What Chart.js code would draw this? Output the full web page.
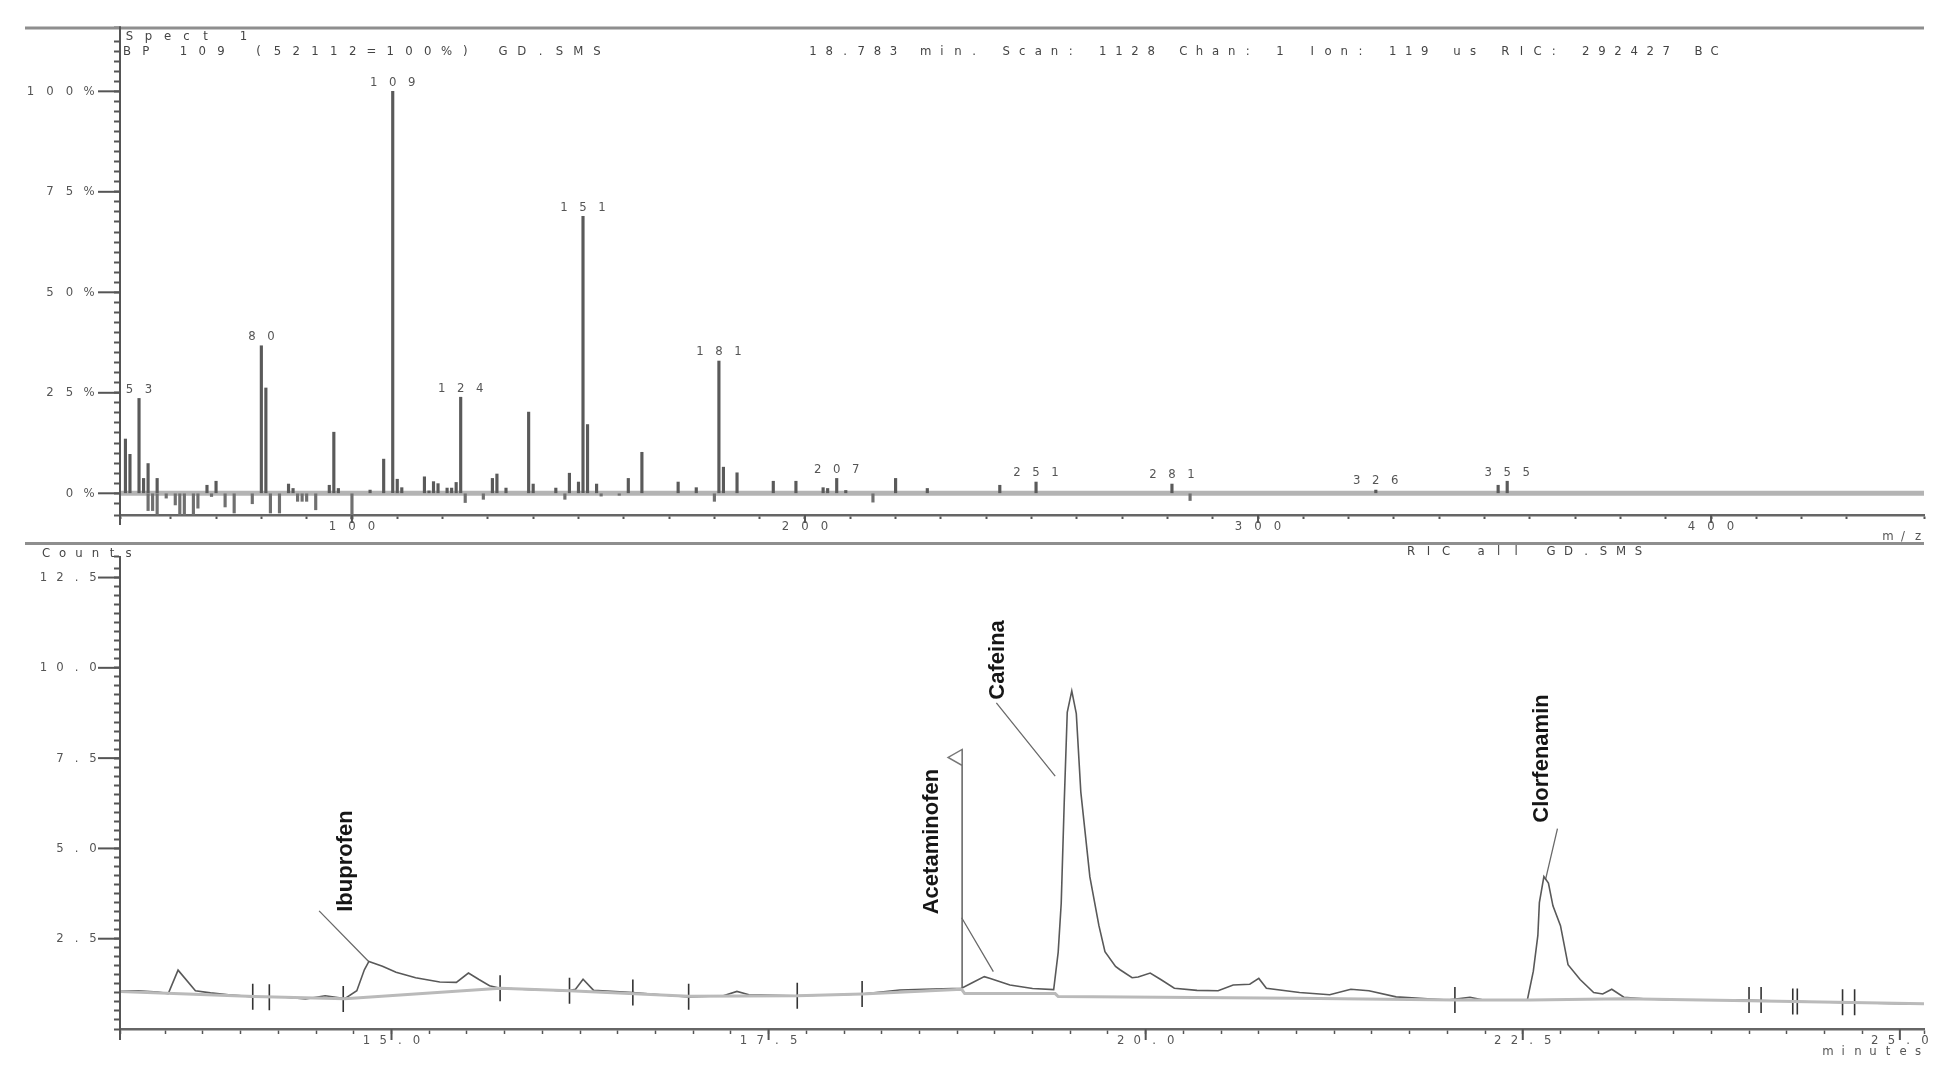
<!DOCTYPE html>
<html>
<head>
<meta charset="utf-8">
<title>GC-MS: spectrum and RIC chromatogram</title>
<script src="https://cdn.jsdelivr.net/npm/chart.js@4.4.1/dist/chart.umd.min.js"></script>
<style>
  html, body { margin: 0; padding: 0; background: #fff; }
  body { width: 1953px; height: 1086px; position: relative; overflow: hidden; }
  canvas { position: absolute; left: 0; }
  #spec { top: 0; }
  #chrom { top: 542px; }
</style>
</head>
<body>
<canvas id="spec" width="1953" height="542"></canvas>
<canvas id="chrom" width="1953" height="544"></canvas>
<script>
// mass spectrum at 18.783 min (m/z, % of base peak)
const specMz  = [50, 51, 53, 54, 55, 57, 68, 70, 80, 81, 86, 87, 95, 96, 97, 104, 107, 109, 110, 111,
                 116, 117, 118, 119, 121, 122, 123, 124, 131, 132, 134, 139, 140, 145, 148, 150, 151, 152, 154,
                 161, 164, 172, 176, 181, 182, 185, 193, 198, 204, 205, 207, 209, 220, 227, 243, 251, 281, 326, 353, 355];
const specPct = [13.5, 9.7, 23.6, 3.7, 7.4, 3.7, 2.0, 3.0, 36.7, 26.2, 2.3, 1.2, 2.0, 15.2, 1.2, 0.8, 8.5, 100, 3.5, 1.4,
                 4.1, 0.6, 2.9, 2.4, 1.3, 1.3, 2.7, 23.9, 3.7, 4.8, 1.3, 20.2, 2.3, 1.3, 5.0, 2.8, 68.9, 17.1, 2.3,
                 3.7, 10.2, 2.8, 1.4, 32.9, 6.5, 5.1, 3.0, 3.0, 1.4, 1.2, 3.7, 0.7, 3.7, 1.2, 2.0, 2.8, 2.3, 0.8, 2.0, 3.0];
// bars drawn below the 0% line
const refMz  = [55, 56, 57, 59, 61, 62, 63, 65, 66, 69, 72, 74, 78, 82, 84, 88, 89, 90, 92, 100, 125, 129, 147, 155, 159, 180, 215, 285];
const refPct = [-4.3, -4.3, -5.4, -1.2, -2.9, -5.4, -5.4, -5.4, -3.7, -0.8, -3.4, -4.9, -2.6, -4.9, -4.9, -2.0, -2.0, -2.0, -4.1, -6.4,
                -2.3, -1.5, -1.5, -0.7, -0.5, -2.0, -2.2, -1.8];
const peakLabels = [53, 80, 109, 124, 151, 181, 207, 251, 281, 326, 355];
const mzTicks  = [100, 200, 300, 400];
const pctTicks = [0, 25, 50, 75, 100];
const specTitle = 'Spect 1';
const specInfo  = 'BP 109 (52112=100%) GD.SMS';
const scanInfo  = '18.783 min. Scan: 1128 Chan: 1 Ion: 119 us RIC: 292427 BC';

// RIC chromatogram (minutes, counts)
const ricTime = [13.20, 13.32, 13.45, 13.52, 13.585, 13.70, 13.80, 13.92, 14.09, 14.30, 14.43, 14.56, 14.69, 14.77, 14.82, 14.85,
                 14.94, 15.03, 15.16, 15.32, 15.43, 15.51, 15.58, 15.65, 15.72, 15.94, 16.05, 16.16, 16.22, 16.27, 16.34,
                 16.60, 16.80, 16.97, 17.20, 17.29, 17.37, 17.68, 17.90, 18.12, 18.37, 18.53, 18.78, 18.85, 18.93, 18.97,
                 19.02, 19.10, 19.25, 19.39, 19.42, 19.44, 19.46, 19.48, 19.51, 19.54, 19.57, 19.63, 19.69, 19.73, 19.80,
                 19.83, 19.91, 19.95, 20.03, 20.10, 20.19, 20.34, 20.48, 20.58, 20.69, 20.75, 20.80, 21.02, 21.22, 21.36,
                 21.48, 21.66, 22.00, 22.15, 22.24, 22.53, 22.57, 22.60, 22.61, 22.64, 22.67, 22.70, 22.75, 22.80, 22.88,
                 22.97, 23.03, 23.09, 23.17, 23.32, 23.56, 23.95, 24.53, 25.16];
const ricCounts = [1.06, 1.06, 1.02, 0.98, 1.63, 1.06, 1.00, 0.95, 0.89, 0.88, 0.83, 0.92, 0.84, 1.06, 1.64, 1.87,
                   1.74, 1.57, 1.42, 1.30, 1.29, 1.55, 1.37, 1.20, 1.13, 1.09, 1.08, 1.05, 1.10, 1.38, 1.07,
                   1.01, 0.94, 0.89, 0.92, 1.04, 0.95, 0.92, 0.94, 0.97, 1.08, 1.10, 1.13, 1.28, 1.45, 1.40,
                   1.33, 1.22, 1.12, 1.09, 2.13, 3.48, 6.28, 8.77, 9.36, 8.73, 6.56, 4.21, 2.86, 2.14, 1.73,
                   1.64, 1.42, 1.44, 1.55, 1.37, 1.13, 1.07, 1.06, 1.22, 1.24, 1.40, 1.13, 1.01, 0.95, 1.10,
                   1.06, 0.89, 0.80, 0.88, 0.80, 0.80, 1.60, 2.59, 3.50, 4.22, 4.04, 3.41, 2.86, 1.78, 1.37,
                   1.01, 0.97, 1.10, 0.88, 0.83, 0.80, 0.80, 0.74, 0.69];
// integration baseline
const baseTime   = [13.20, 14.09, 14.69, 15.72, 16.18, 16.97, 17.69, 18.12, 18.78, 18.80, 19.40, 19.42, 21.00, 22.05, 22.55, 23.17, 24.00, 25.16];
const baseCounts = [1.04, 0.90, 0.84, 1.13, 1.06, 0.91, 0.92, 0.97, 1.10, 0.98, 0.98, 0.90, 0.85, 0.80, 0.80, 0.84, 0.78, 0.70];
// peak start / end markers
const markTime   = [14.08, 14.19, 14.68, 15.72, 16.18, 16.60, 16.97, 17.69, 18.12, 22.05, 24.00, 24.08, 24.29, 24.32, 24.62, 24.70];
const markCounts = [0.89, 0.88, 0.83, 1.13, 1.06, 1.01, 0.89, 0.92, 0.97, 0.80, 0.80, 0.80, 0.76, 0.76, 0.74, 0.74];
const compounds  = ['Ibuprofen', 'Acetaminofen', 'Cafeina', 'Clorfenamin'];
const compoundAt = [[14.695, 4.65], [18.58, 5.19], [19.02, 10.22], [22.63, 7.49]];
const leaderFrom = [[14.52, 3.27], [18.78, 3.08], [19.01, 9.03], [22.73, 5.55]];
const leaderTo   = [[14.85, 1.86], [18.99, 1.59], [19.40, 7.00], [22.65, 4.12]];
const cursorTime = 18.783, cursorBase = 1.13, cursorTop = 7.74;
const timeTicks  = [15.0, 17.5, 20.0, 22.5, 25.0];
const countTicks = [2.5, 5.0, 7.5, 10.0, 12.5];

const INK = '#555';
const SMALL = '13px "DejaVu Sans Condensed", "Liberation Sans", Arial, sans-serif';

// the instrument printout spaces every character on a fixed pitch
function spaced(ctx, text, x, y, adv, align) {
  const w = adv * (text.length - 1);
  const x0 = align === 'right' ? x - w : align === 'center' ? x - w / 2 : x;
  ctx.textAlign = 'center';
  ctx.textBaseline = 'middle';
  for (let i = 0; i < text.length; i++) {
    if (text[i] !== ' ') ctx.fillText(text[i], x0 + i * adv, y);
  }
}
function seg(ctx, x1, y1, x2, y2) {
  ctx.beginPath(); ctx.moveTo(x1, y1); ctx.lineTo(x2, y2); ctx.stroke();
}
const pts = (xs, ys) => xs.map((v, i) => ({ x: v, y: ys[i] }));

const specDeco = {
  id: 'specDeco',
  beforeDatasetsDraw(chart) {
    const { ctx, chartArea: a, scales: { y } } = chart;
    ctx.save();
    ctx.strokeStyle = '#b4b4b4'; ctx.lineWidth = 5;
    seg(ctx, a.left, y.getPixelForValue(0), a.right, y.getPixelForValue(0));
    ctx.restore();
  },
  afterDraw(chart) {
    const { ctx, chartArea: a, scales: { x, y } } = chart;
    ctx.save();
    ctx.strokeStyle = '#8e8e8e'; ctx.lineWidth = 3;
    seg(ctx, 25, 28, a.right, 28);
    ctx.strokeStyle = INK; ctx.lineWidth = 2;
    seg(ctx, a.left, a.top, a.left, a.bottom + 10);
    pctTicks.forEach(v => { const py = y.getPixelForValue(v); seg(ctx, a.left - 22, py, a.left, py); });
    mzTicks.forEach(v => { const px = x.getPixelForValue(v); seg(ctx, px, a.bottom, px, a.bottom + 8); });

    ctx.font = SMALL; ctx.fillStyle = '#555';
    pctTicks.forEach(v => spaced(ctx, v + '%', 89, y.getPixelForValue(v), 19.5, 'right'));
    mzTicks.forEach(v => spaced(ctx, String(v), x.getPixelForValue(v), a.bottom + 12, 19.5, 'center'));
    spaced(ctx, 'm/z', 1918, a.bottom + 22, 15, 'right');
    peakLabels.forEach(m => {
      const i = specMz.indexOf(m);
      spaced(ctx, String(m), x.getPixelForValue(m), y.getPixelForValue(specPct[i]) - 9, 19, 'center');
    });

    ctx.fillStyle = '#444';
    spaced(ctx, specTitle, 129.5, 37, 19, 'left');
    spaced(ctx, specInfo, 127, 52, 18.8, 'left');
    spaced(ctx, scanInfo, 813, 52, 16.1, 'left');
    ctx.restore();
  }
};

new Chart(document.getElementById('spec'), {
  type: 'bar',
  data: {
    datasets: [
      { data: pts(specMz, specPct), backgroundColor: '#5a5a5a', barThickness: 2.5, grouped: false },
      { data: pts(refMz, refPct), backgroundColor: '#707070', barThickness: 2.5, grouped: false, clip: false }
    ]
  },
  options: {
    responsive: false, animation: false, events: [],
    layout: { padding: { left: 0, right: 29, top: 27, bottom: 0 } },
    plugins: { legend: { display: false }, tooltip: { enabled: false } },
    scales: {
      x: {
        type: 'linear', min: 48.8, max: 447, offset: false,
        grid: { offset: false, drawOnChartArea: false, tickLength: 4, tickColor: INK, tickWidth: 2 },
        border: { color: '#666', width: 2.5 },
        ticks: { display: false, stepSize: 10, autoSkip: false, maxTicksLimit: 1000 },
        afterFit: s => { s.height = 27; }
      },
      y: {
        min: -5.4, max: 116,
        grid: { drawOnChartArea: false, tickLength: 6, tickColor: INK, tickWidth: 2 },
        border: { color: INK, width: 2 },
        ticks: { display: false, stepSize: 2.5, autoSkip: false, maxTicksLimit: 1000 },
        afterFit: s => { s.width = 120; }
      }
    }
  },
  plugins: [specDeco]
});

const chromDeco = {
  id: 'chromDeco',
  afterDraw(chart) {
    const { ctx, chartArea: a, scales: { x, y } } = chart;
    ctx.save();
    ctx.strokeStyle = '#8e8e8e'; ctx.lineWidth = 3;
    seg(ctx, 25, 1.5, a.right, 1.5);
    ctx.strokeStyle = INK; ctx.lineWidth = 2;
    seg(ctx, a.left, a.top, a.left, a.bottom + 11);
    countTicks.forEach(v => { const py = y.getPixelForValue(v); seg(ctx, a.left - 22, py, a.left, py); });
    timeTicks.forEach(v => { const px = x.getPixelForValue(v); seg(ctx, px, a.bottom, px, a.bottom + 11); });

    // scan cursor flag
    const fx = x.getPixelForValue(cursorTime), fy = y.getPixelForValue(cursorTop);
    ctx.beginPath();
    ctx.moveTo(fx, fy); ctx.lineTo(fx, fy + 16); ctx.lineTo(fx - 14, fy + 8); ctx.closePath();
    ctx.fillStyle = '#fff'; ctx.fill();
    ctx.strokeStyle = '#777'; ctx.lineWidth = 1.5; ctx.stroke();

    ctx.font = SMALL; ctx.fillStyle = '#555';
    countTicks.forEach(v => spaced(ctx, v.toFixed(1), 93, y.getPixelForValue(v), 16.5, 'right'));
    timeTicks.forEach(v => spaced(ctx, v.toFixed(1), x.getPixelForValue(v), a.bottom + 12, 16.7, 'center'));
    spaced(ctx, 'minutes', 1828, a.bottom + 23, 15, 'left');
    ctx.fillStyle = '#444';
    spaced(ctx, 'Counts', 46, 12, 16.5, 'left');
    spaced(ctx, 'RIC all GD.SMS', 1411, 10, 17.5, 'left');

    ctx.font = 'bold 22px "Liberation Sans", Arial, sans-serif';
    ctx.fillStyle = '#161616';
    ctx.textAlign = 'center'; ctx.textBaseline = 'middle';
    compounds.forEach((name, i) => {
      ctx.save();
      ctx.translate(x.getPixelForValue(compoundAt[i][0]), y.getPixelForValue(compoundAt[i][1]));
      ctx.rotate(-Math.PI / 2);
      ctx.fillText(name, 0, 0);
      ctx.restore();
    });
    ctx.restore();
  }
};

const leaders = [];
leaderFrom.forEach((f, i) => {
  leaders.push({ x: f[0], y: f[1] }, { x: leaderTo[i][0], y: leaderTo[i][1] }, { x: leaderTo[i][0], y: null });
});

new Chart(document.getElementById('chrom'), {
  type: 'line',
  data: {
    datasets: [
      { data: pts(baseTime, baseCounts), borderColor: '#bababa', borderWidth: 3, pointRadius: 0 },
      { data: pts(ricTime, ricCounts), borderColor: '#595959', borderWidth: 1.6, pointRadius: 0 },
      { data: leaders, borderColor: '#6a6a6a', borderWidth: 1.3, pointRadius: 0, spanGaps: false },
      { data: [{ x: cursorTime, y: cursorBase }, { x: cursorTime, y: cursorTop }], borderColor: '#606060', borderWidth: 1.5, pointRadius: 0 },
      { type: 'scatter', data: pts(markTime, markCounts), showLine: false, pointStyle: 'line', rotation: 90,
        pointRadius: 13, borderColor: '#333', borderWidth: 1.6 }
    ]
  },
  options: {
    responsive: false, animation: false, events: [],
    layout: { padding: { left: 0, right: 29, top: 3, bottom: 0 } },
    plugins: { legend: { display: false }, tooltip: { enabled: false } },
    scales: {
      x: {
        type: 'linear', min: 13.2, max: 25.16,
        grid: { drawOnChartArea: false, tickLength: 5, tickColor: INK, tickWidth: 1.5 },
        border: { color: '#666', width: 2.5 },
        ticks: { display: false, stepSize: 0.25, autoSkip: false, maxTicksLimit: 1000 },
        afterFit: s => { s.height = 57; }
      },
      y: {
        min: 0, max: 13.08,
        grid: { drawOnChartArea: false, tickLength: 6, tickColor: INK, tickWidth: 2 },
        border: { color: INK, width: 2 },
        ticks: { display: false, stepSize: 0.25, autoSkip: false, maxTicksLimit: 1000 },
        afterFit: s => { s.width = 120; }
      }
    }
  },
  plugins: [chromDeco]
});
</script>
</body>
</html>
